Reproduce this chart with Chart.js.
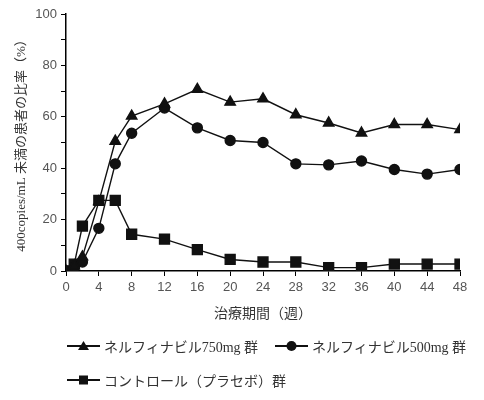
<!DOCTYPE html>
<html lang="ja">
<head>
    <meta charset="UTF-8">
    <title>400copies/mL 未満の患者の比率</title>
    <script src="https://cdn.jsdelivr.net/npm/chart.js"></script>
    <style>
        body { margin: 0; padding: 0; background: #fff; }
        .wrap { position: relative; width: 484px; height: 400px; }
        .legend {
            position: absolute;
            font-family: "Liberation Serif", "Noto Sans CJK JP", serif;
            font-size: 14px;
            color: #333;
            display: flex;
            align-items: center;
            white-space: nowrap;
        }
        .legend svg { margin-right: 4px; }
    </style>
</head>
<body>
<div class="wrap">
    <canvas id="chart" width="484" height="400"></canvas>
    <div class="legend" style="left:67px; top:336px;" id="lg0"></div>
    <div class="legend" style="left:275px; top:336px;" id="lg1"></div>
    <div class="legend" style="left:67px; top:370px;" id="lg2"></div>
</div>
<script>
    // weeks on treatment
    const weeks = [0, 1, 2, 4, 6, 8, 12, 16, 20, 24, 28, 32, 36, 40, 44, 48];

    // % of patients below 400 copies/mL
    const nfv750 = [0, 2, 5.5, 27, 50.5, 60.3, 65, 70.7, 65.7, 67, 60.8, 57.6, 53.7, 57, 57, 55];
    const nfv500 = [0, 1.5, 3.5, 16.6, 41.7, 53.6, 63.4, 55.7, 50.8, 50, 41.7, 41.3, 42.8, 39.5, 37.7, 39.5];
    const placebo = [0, 2.7, 17.5, 27.5, 27.5, 14.3, 12.4, 8.3, 4.5, 3.5, 3.5, 1.3, 1.3, 2.7, 2.7, 2.7];

    const labels = ['ネルフィナビル750mg 群', 'ネルフィナビル500mg 群', 'コントロール（プラセボ）群'];
    const markers = ['triangle', 'circle', 'rect'];
    const sizes = [6, 5, 7];

    const toXY = arr => arr.map((v, i) => ({ x: weeks[i], y: v }));

    const sets = [nfv750, nfv500, placebo].map((arr, i) => ({
        label: labels[i],
        data: toXY(arr),
        borderColor: '#111',
        backgroundColor: '#111',
        borderWidth: 1.4,
        pointStyle: markers[i],
        pointRadius: sizes[i],
        pointHoverRadius: sizes[i],
        tension: 0
    }));

    new Chart(document.getElementById('chart'), {
        type: 'line',
        data: { datasets: sets },
        options: {
            responsive: false,
            animation: false,
            layout: { padding: { top: 14, right: 24, left: 0, bottom: 75 } },
            plugins: { legend: { display: false }, tooltip: { enabled: false } },
            scales: {
                x: {
                    type: 'linear',
                    min: 0, max: 48,
                    ticks: { stepSize: 4, color: '#555', font: { family: 'Liberation Sans', size: 13 }, padding: 4 },
                    grid: { drawOnChartArea: false, color: '#000', tickLength: 5 },
                    border: { color: '#000', width: 1.5 },
                    title: {
                        display: true,
                        text: '治療期間（週）',
                        color: '#333',
                        font: { family: 'Noto Sans CJK JP', size: 14 },
                        padding: { top: 2, bottom: 4 }
                    },
                    afterFit: s => { s.height = 54; }
                },
                y: {
                    min: 0, max: 100,
                    ticks: {
                        stepSize: 10,
                        color: '#555',
                        font: { family: 'Liberation Sans', size: 13 },
                        padding: 4,
                        callback: v => (v % 20 === 0 ? v : '')
                    },
                    grid: { drawOnChartArea: false, color: '#000', tickLength: 5 },
                    border: { color: '#000', width: 1.5 },
                    title: {
                        display: true,
                        text: '400copies/mL 未満の患者の比率（%）',
                        color: '#333',
                        font: { family: 'Liberation Serif, Noto Sans CJK JP', size: 13 },
                        padding: { top: 14, bottom: 0 }
                    },
                    afterFit: s => { s.width = 66; }
                }
            }
        }
    });

    // legend: line with marker in the middle
    const shapes = [
        '<polygon points="16.5,3 22,12 11,12" fill="#111"/>',
        '<circle cx="16.5" cy="8" r="5" fill="#111"/>',
        '<rect x="12" y="3.5" width="9" height="9" fill="#111"/>'
    ];
    labels.forEach((t, i) => {
        const el = document.getElementById('lg' + i);
        el.innerHTML = '<svg width="33" height="16"><line x1="0" y1="8" x2="33" y2="8" stroke="#111" stroke-width="2"/>' +
            shapes[i] + '</svg><span>' + t + '</span>';
    });
</script>
</body>
</html>
